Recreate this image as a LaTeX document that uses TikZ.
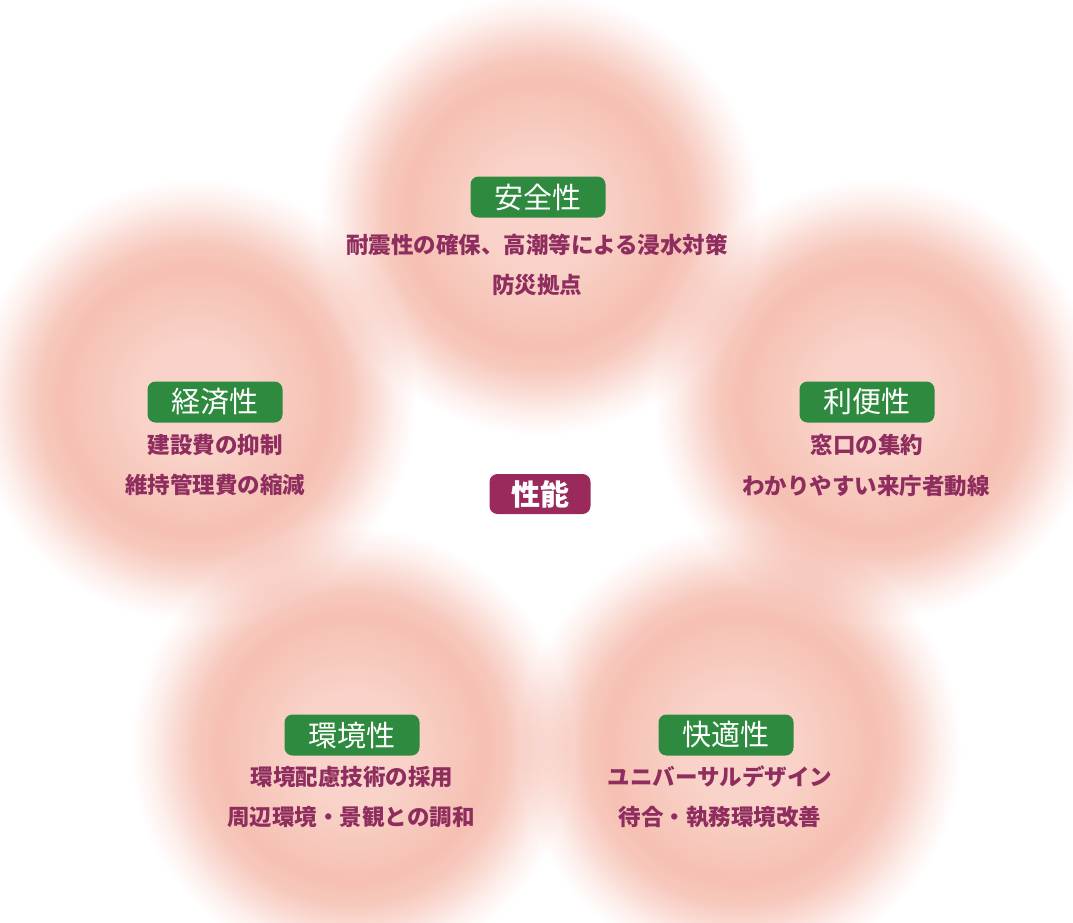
\documentclass[tikz,border=0pt]{standalone}
\usepackage{fontspec}
\setmainfont{Noto Sans CJK JP}
\newfontfamily\cjk{Noto Sans CJK JP}
\usetikzlibrary{shapes.misc}
\definecolor{pkin}{HTML}{F9D3C9}
\definecolor{pkmid}{HTML}{F7C6BA}
\definecolor{pkring}{HTML}{F6C0B3}
\definecolor{lblgreen}{HTML}{2E8A3E}
\definecolor{maroon}{HTML}{9A2A5C}
\definecolor{subtxt}{HTML}{8E2D5E}
\pgfdeclareradialshading{blob}{\pgfpoint{0bp}{0bp}}{color(0bp)=(pkin); color(6bp)=(pkin); color(12bp)=(pkmid); color(15bp)=(pkring); color(17.5bp)=(pkring!88!white); color(20bp)=(pkring!58!white); color(22.5bp)=(pkring!24!white); color(25bp)=(white); color(50bp)=(white)}
\begin{document}
\begin{tikzpicture}[x=1pt,y=-1pt,
  blob/.style={shading=blob, blend mode=multiply},
  cat/.style={rounded corners=8pt, fill=lblgreen, text=white, minimum width=135pt, minimum height=41pt, inner sep=0pt, font=\fontsize{29}{29}\selectfont},
  core/.style={rounded corners=8pt, fill=maroon, text=white, minimum width=101pt, minimum height=40pt, inner sep=0pt, font=\fontsize{29}{29}\selectfont\bfseries},
  sub/.style={text=subtxt, inner sep=0pt, font=\fontsize{22.5}{22.5}\selectfont\bfseries}]
\useasboundingbox (0,0) rectangle (1073,923);
\fill[white] (0,0) rectangle (1073,923);
% soft discs
\shade[blob] (540,214) circle (222);
\shade[blob] (195,400) circle (222);
\shade[blob] (875,400) circle (222);
\shade[blob] (352,748) circle (222);
\shade[blob] (740,748) circle (222);
% centre
\node[core] (perf) at (540,494) {性能};
% safety
\node[cat] (safe) at (538,197) {安全性};
\node[sub] (safe1) at (537,245) {耐震性の確保、高潮等による浸水対策};
\node[sub] (safe2) at (537,285) {防災拠点};
% economy
\node[cat] (econ) at (215,402) {経済性};
\node[sub] (econ1) at (215,445) {建設費の抑制};
\node[sub] (econ2) at (215,485) {維持管理費の縮減};
% convenience
\node[cat] (conv) at (867,402) {利便性};
\node[sub] (conv1) at (867,445) {窓口の集約};
\node[sub] (conv2) at (866,486) {わかりやすい来庁者動線};
% environment
\node[cat] (envi) at (352,735) {環境性};
\node[sub] (envi1) at (352,777) {環境配慮技術の採用};
\node[sub] (envi2) at (351,817) {周辺環境・景観との調和};
% comfort
\node[cat] (comf) at (726,735) {快適性};
\node[sub] (comf1) at (720,777) {ユニバーサルデザイン};
\node[sub] (comf2) at (720,817) {待合・執務環境改善};
\end{tikzpicture}
\end{document}
